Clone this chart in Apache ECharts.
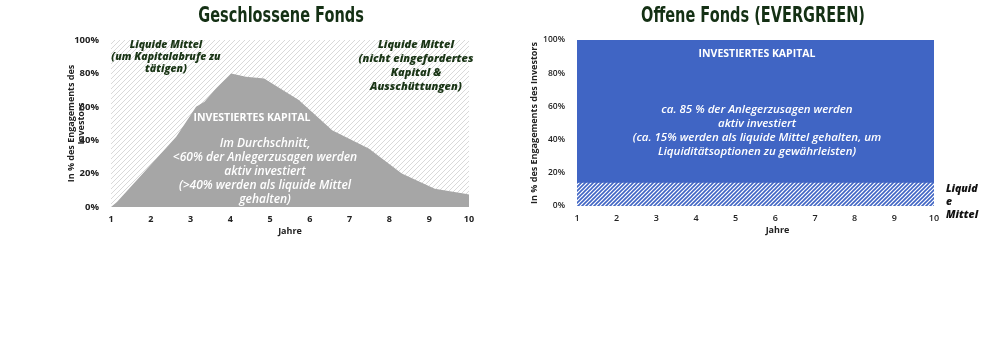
<!DOCTYPE html>
<html>
<head>
<meta charset="utf-8">
<script src="https://cdn.jsdelivr.net/npm/echarts@6/dist/echarts.min.js"></script>
<style>
  html, body { margin: 0; padding: 0; background: #fff; }
  #chart { width: 1000px; height: 362px; }
</style>
</head>
<body>
<div id="chart"></div>
<script>
// Geschlossene Fonds: investiertes Kapital in % ueber die Jahre
var closedYears = [1, 1.15, 2.64, 3.14, 3.35, 3.64, 4.02, 4.39, 4.85, 5.72, 6.56, 7.48, 8.31, 9.14, 9.9, 10]
var closedInvested = [0, 3, 42, 60, 63, 71, 80, 78, 77, 64, 46, 35, 20, 11, 8, 7.5]
var closedTotal = [100, 100]

// Offene Fonds (Evergreen)
var openYears = [1, 10]
var openInvested = [100, 100]
var openLiquid = [14, 14]

var xTicks = [1, 2, 3, 4, 5, 6, 7, 8, 9, 10]

function pairs (xs, ys) {
  return xs.map(function (x, i) { return [x, ys[i]] })
}

function hatch (bg, fg, size, width) {
  var c = document.createElement('canvas')
  c.width = size
  c.height = size
  var ctx = c.getContext('2d')
  ctx.fillStyle = bg
  ctx.fillRect(0, 0, size, size)
  ctx.strokeStyle = fg
  ctx.lineWidth = width
  ctx.beginPath()
  ctx.moveTo(0, size); ctx.lineTo(size, 0)
  ctx.moveTo(-size, size); ctx.lineTo(size, -size)
  ctx.moveTo(0, 2 * size); ctx.lineTo(2 * size, 0)
  ctx.stroke()
  return c
}

var grey = '#a6a6a6'
var blue = '#4065c4'
var green = '#1a3516'
var tickFont = '"Open Sans", sans-serif'

function yAxis (gridIndex, bold, size, gap, name) {
  return {
    type: 'value',
    gridIndex: gridIndex,
    min: 0,
    max: 100,
    interval: 20,
    name: name,
    nameLocation: 'middle',
    nameGap: gap,
    nameMoveOverlap: false,
    nameTextStyle: { fontFamily: tickFont, fontWeight: 'bold', fontSize: 9, color: '#222', lineHeight: 10 },
    axisLine: { show: false },
    axisTick: { show: false },
    splitLine: { show: false },
    axisLabel: { formatter: '{value}%', margin: 12, fontFamily: tickFont, fontWeight: bold, fontSize: size, color: '#222' }
  }
}

function xAxis (gridIndex, bold, namePad) {
  return {
    type: 'value',
    gridIndex: gridIndex,
    min: xTicks[0],
    max: xTicks[xTicks.length - 1],
    interval: 1,
    name: 'Jahre',
    nameLocation: 'middle',
    nameGap: 20,
    nameTextStyle: { fontFamily: tickFont, fontWeight: 'bold', fontSize: 9, color: '#222', padding: [0, 0, 0, namePad] },
    axisLine: { show: false },
    axisTick: { show: false },
    splitLine: { show: false },
    axisLabel: { margin: 8, fontFamily: tickFont, fontWeight: bold, fontSize: 9, color: '#222' }
  }
}

function text (x, y, str, font, fill, align, lh) {
  return {
    type: 'text',
    x: x,
    y: y,
    z: 100,
    style: { text: str, font: font, fill: fill, align: align || 'center', verticalAlign: 'top', lineHeight: lh || 14 }
  }
}

function title (x, str) {
  var t = text(x, 10, str, 'bold 21px "Liberation Sans Narrow", "DejaVu Sans Condensed", sans-serif', '#143014')
  t.scaleX = 0.77
  return t
}

var noteFont = 'italic 800 10.5px "Open Sans", sans-serif'

var chart = echarts.init(document.getElementById('chart'), null, { renderer: 'canvas' })
chart.setOption({
  animation: false,
  backgroundColor: '#fff',
  grid: [
    { left: 111, top: 40, width: 358, height: 167 },
    { left: 577, top: 40, width: 357, height: 166 }
  ],
  xAxis: [xAxis(0, 'bold', 0), xAxis(1, 600, 44)],
  yAxis: [
    yAxis(0, 'bold', 9.5, 25, 'In % des Engagements des\nInvestors'),
    yAxis(1, 600, 8.5, 38, 'In % des Engagements des Investors')
  ],
  series: [
    {
      type: 'line', xAxisIndex: 0, yAxisIndex: 0, symbol: 'none', silent: true,
      lineStyle: { width: 0 },
      areaStyle: { color: { image: hatch('#ffffff', '#d9d9d9', 5, 1), repeat: 'repeat' }, opacity: 1 },
      data: pairs(openYears, closedTotal)
    },
    {
      type: 'line', xAxisIndex: 0, yAxisIndex: 0, symbol: 'none', silent: true,
      lineStyle: { width: 0 },
      areaStyle: { color: grey, opacity: 1 },
      data: pairs(closedYears, closedInvested)
    },
    {
      type: 'line', xAxisIndex: 1, yAxisIndex: 1, symbol: 'none', silent: true,
      lineStyle: { width: 0 },
      areaStyle: { color: blue, opacity: 1 },
      data: pairs(openYears, openInvested)
    },
    {
      type: 'line', xAxisIndex: 1, yAxisIndex: 1, symbol: 'none', silent: true,
      lineStyle: { width: 0 },
      areaStyle: { color: { image: hatch('#ffffff', blue, 4, 1.6), repeat: 'repeat' }, opacity: 1 },
      data: pairs(openYears, openLiquid)
    }
  ],
  graphic: [
    title(281, 'Geschlossene Fonds'),
    title(753, 'Offene Fonds (EVERGREEN)'),
    // linke Grafik
    text(166, 39, 'Liquide Mittel\n(um Kapitalabrufe zu\ntätigen)', noteFont, green, 'center', 12),
    text(416, 38, 'Liquide Mittel\n(nicht eingefordertes\nKapital &\nAusschüttungen)', 'italic 800 11px "Open Sans", sans-serif', green, 'center', 14),
    text(252, 111, 'INVESTIERTES KAPITAL', 'bold 10.5px "Open Sans", sans-serif', '#fff'),
    text(265, 137, 'Im Durchschnitt,\n<60% der Anlegerzusagen werden\naktiv investiert\n(>40% werden als liquide Mittel\ngehalten)', 'italic 600 12px "Open Sans", sans-serif', '#fff', 'center', 14),
    // rechte Grafik
    text(757, 47, 'INVESTIERTES KAPITAL', 'bold 10.5px "Open Sans", sans-serif', '#fff'),
    text(757, 103, 'ca. 85 % der Anlegerzusagen werden\naktiv investiert\n(ca. 15% werden als liquide Mittel gehalten, um\nLiquiditätsoptionen zu gewährleisten)', 'italic 600 11.5px "Open Sans", sans-serif', '#fff', 'center', 14),
    text(946, 183, 'Liquid\ne\nMittel', 'italic 800 10.5px "Open Sans", sans-serif', '#111', 'left', 13)
  ]
})
</script>
</body>
</html>
